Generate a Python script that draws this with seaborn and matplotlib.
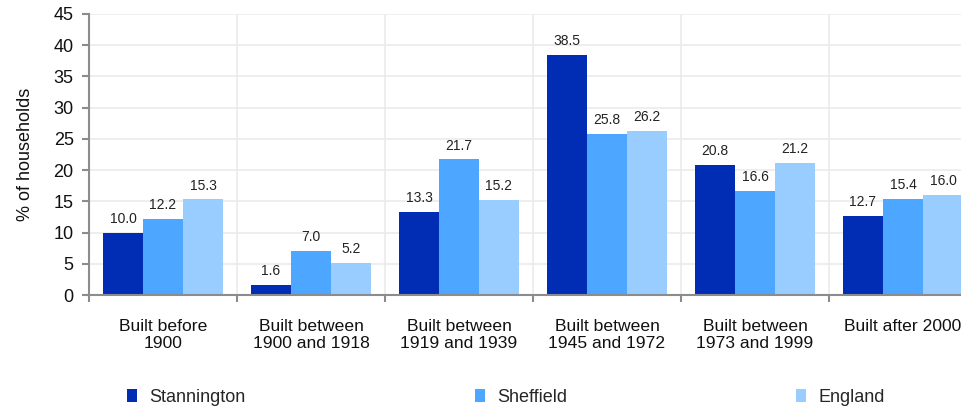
import matplotlib
matplotlib.use("Agg")
import matplotlib.pyplot as plt
import seaborn as sns
import pandas as pd
from matplotlib.patches import Patch
from matplotlib.ticker import FixedLocator

categories = ["Built before\n1900", "Built between\n1900 and 1918", "Built between\n1919 and 1939",
              "Built between\n1945 and 1972", "Built between\n1973 and 1999", "Built after 2000"]
series = ["Stannington", "Sheffield", "England"]
stannington = [10.0, 1.6, 13.3, 38.5, 20.8, 12.7]
sheffield = [12.2, 7.0, 21.7, 25.8, 16.6, 15.4]
england = [15.3, 5.2, 15.2, 26.2, 21.2, 16.0]
colors = ["#002DB3", "#4DA6FF", "#99CCFF"]

rows = []
for name, vals in zip(series, [stannington, sheffield, england]):
    for c, v in zip(categories, vals):
        rows.append({"category": c, "series": name, "value": v})
df = pd.DataFrame(rows)

sns.set_style("white")
plt.rcParams['font.family'] = ['Liberation Sans', 'DejaVu Sans']

fig = plt.figure(figsize=(9.62, 4.09), dpi=100)
ax = fig.add_axes([89/962, 1-295/409, (977-89)/962, (295-14)/409])

sns.barplot(data=df, x="category", y="value", hue="series", palette=colors,
            width=120/148, gap=0, saturation=1, ax=ax, legend=False, linewidth=0)

for cont in ax.containers:
    ax.bar_label(cont, fmt="%.1f", padding=5, fontsize=10, color="#222222")

ax.set_ylim(0, 45)
ax.set_xlim(-0.5, 5.5)
ax.set_yticks(range(0, 46, 5))
ax.yaxis.grid(True, color="#ebebeb", linewidth=1.2)
ax.xaxis.set_minor_locator(FixedLocator([i + 0.5 for i in range(-1, 6)]))
ax.xaxis.grid(True, which="minor", color="#ebebeb", linewidth=1.2)
ax.set_axisbelow(True)

for s in ["top", "right"]:
    ax.spines[s].set_visible(False)
for s in ["left", "bottom"]:
    ax.spines[s].set_color("#8c8c8c")
    ax.spines[s].set_linewidth(1.5)

ax.tick_params(axis="y", which="major", left=True, length=5, width=1.5, color="#8c8c8c",
               labelsize=13, pad=6, labelcolor="#111111")
ax.tick_params(axis="x", which="major", bottom=False, length=0, labelsize=12.6, pad=17,
               labelcolor="#111111")
ax.tick_params(axis="x", which="minor", bottom=True, length=5, width=1.5, color="#8c8c8c")

ax.set_xlabel("")
ax.set_ylabel("% of households", fontsize=13, color="#111111")
ax.yaxis.set_label_coords(-(89 - 34) / (977 - 89), 0.5)

handles = [Patch(facecolor=c, edgecolor="none") for c in colors]
fig.legend(handles, series, loc="center",
           bbox_to_anchor=(127/962, 1 - 397/409 - 0.04, (885-127)/962, 0.08),
           mode="expand", ncol=3, frameon=False, fontsize=13, handlelength=0.55, handleheight=0.75,
           handletextpad=0.7, borderaxespad=0, borderpad=0)

fig.savefig("out.png", dpi=100)
